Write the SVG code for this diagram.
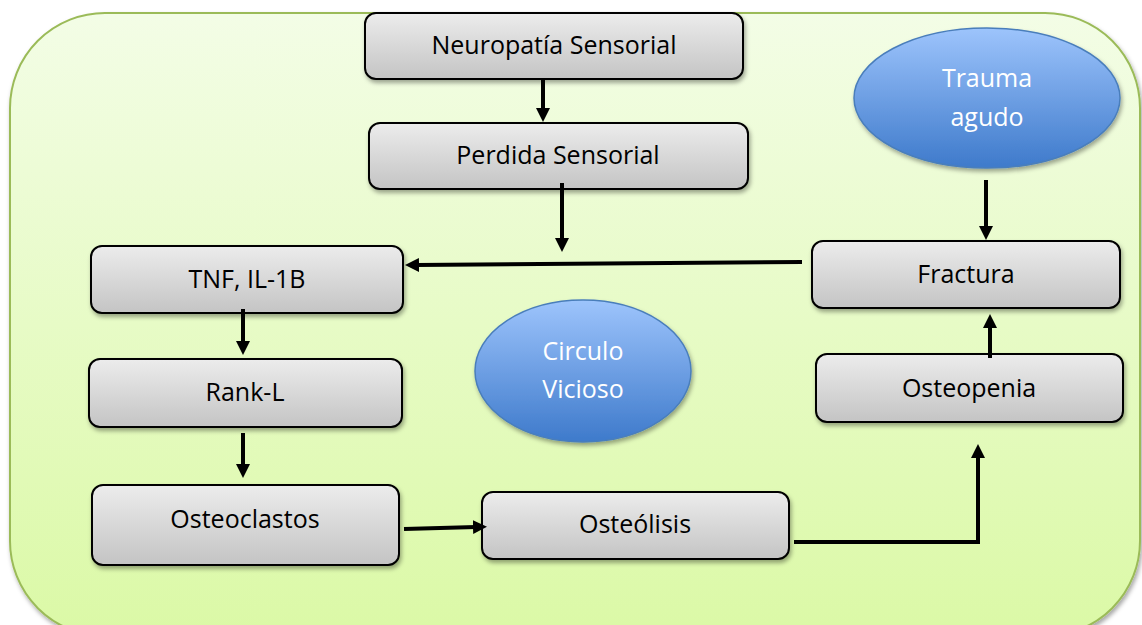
<svg xmlns="http://www.w3.org/2000/svg" width="1142" height="625" viewBox="0 0 1142 625">
<defs>
<linearGradient id="bg" x1="0" y1="0" x2="0" y2="1">
<stop offset="0" stop-color="#f3fde6"/>
<stop offset="1" stop-color="#dbf9a6"/>
</linearGradient>
<linearGradient id="box" x1="0" y1="0" x2="0" y2="1">
<stop offset="0" stop-color="#ececec"/>
<stop offset="1" stop-color="#c4c4c4"/>
</linearGradient>
<linearGradient id="ell" x1="0" y1="0" x2="0" y2="1">
<stop offset="0" stop-color="#9dc4fc"/>
<stop offset="1" stop-color="#3e7acb"/>
</linearGradient>
<filter id="sh" x="-10%" y="-10%" width="120%" height="130%">
<feDropShadow dx="1.5" dy="3" stdDeviation="2" flood-color="#000" flood-opacity="0.35"/>
</filter>
<marker id="ah" markerUnits="userSpaceOnUse" markerWidth="16" markerHeight="16" refX="3" refY="7" orient="auto">
<path d="M0,0 L14,7 L0,14 z" fill="#000"/>
</marker>
<style>
.box{fill:url(#box);stroke:#000;stroke-width:2;filter:url(#sh)}
.ell{fill:url(#ell);stroke:#4a7ebb;stroke-width:1.5;filter:url(#sh)}
.t{font-family:"Open Sans","Liberation Sans",sans-serif;font-size:25px;fill:#000;text-anchor:middle}
.w{fill:#fff}
.c{fill:none;stroke:#000;stroke-width:4;marker-end:url(#ah)}
</style>
</defs>
<rect x="10" y="13" width="1130" height="623" rx="95" ry="95" fill="url(#bg)" stroke="#9bbb59" stroke-width="2" filter="url(#sh)"/>
<g id="n-neuropatia"><rect class="box" x="365" y="13" width="378" height="66" rx="11"/><text class="t" x="554" y="54">Neuropatía Sensorial</text></g>
<g id="n-perdida"><rect class="box" x="369" y="123" width="379" height="66" rx="11"/><text class="t" x="558" y="164">Perdida Sensorial</text></g>
<g id="n-tnf"><rect class="box" x="91" y="246" width="312" height="67" rx="11"/><text class="t" x="247" y="288">TNF, IL-1B</text></g>
<g id="n-rank"><rect class="box" x="89" y="359" width="313" height="68" rx="11"/><text class="t" x="245" y="401">Rank-L</text></g>
<g id="n-osteoclastos"><rect class="box" x="92" y="485" width="307" height="80" rx="11"/><text class="t" x="245" y="528">Osteoclastos</text></g>
<g id="n-osteolisis"><rect class="box" x="482" y="492" width="307" height="67" rx="11"/><text class="t" x="635" y="533">Osteólisis</text></g>
<g id="n-osteopenia"><rect class="box" x="816" y="354" width="307" height="68" rx="11"/><text class="t" x="969" y="397">Osteopenia</text></g>
<g id="n-fractura"><rect class="box" x="812" y="241" width="308" height="67" rx="11"/><text class="t" x="966" y="283">Fractura</text></g>
<g id="n-trauma"><ellipse class="ell" cx="987" cy="98" rx="133" ry="70"/><text class="t w" x="987" y="87">Trauma</text><text class="t w" x="987" y="126">agudo</text></g>
<g id="n-circulo"><ellipse class="ell" cx="583" cy="371" rx="108" ry="71"/><text class="t w" x="583" y="360">Circulo</text><text class="t w" x="583" y="398">Vicioso</text></g>
<g id="connectors">
<line class="c" x1="543" y1="78" x2="543" y2="111"/>
<line class="c" x1="562" y1="183" x2="562" y2="241"/>
<line class="c" x1="802" y1="262" x2="416" y2="265"/>
<line class="c" x1="243" y1="309" x2="243" y2="344"/>
<line class="c" x1="243" y1="433" x2="243" y2="467"/>
<line class="c" x1="404" y1="529" x2="476" y2="527"/>
<polyline class="c" points="794,542 978,542 978,455"/>
<line class="c" x1="990" y1="358" x2="990" y2="325"/>
<line class="c" x1="986" y1="180" x2="986" y2="229"/>
</g>
</svg>
